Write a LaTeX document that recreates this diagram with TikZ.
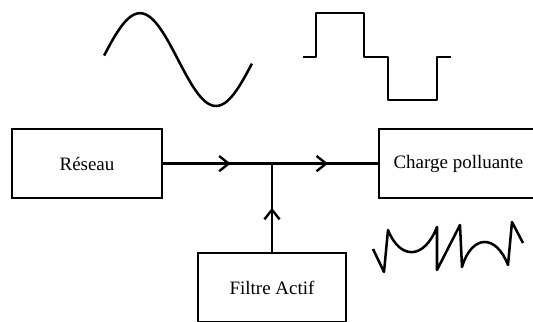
\documentclass[tikz,border=0pt]{standalone}
\usepackage{fontspec}
\setmainfont{Liberation Serif}
\usetikzlibrary{positioning}
\usetikzlibrary{arrows.meta}
\usetikzlibrary{decorations.markings}

\begin{document}
\begin{tikzpicture}[
    box/.style={draw, line width=1.7pt, minimum height=1.72cm, align=center, font=\fontsize{13.5}{16}\selectfont},
    wire/.style={line width=1.7pt},
    wave/.style={line width=1.8pt, line join=round},
    flow/.style={postaction={decorate}, decoration={markings,
        mark=at position #1 with {\arrow{Straight Barb[length=2.4mm,width=3.8mm]}}}}
]
    \useasboundingbox (0,0) rectangle (13.325,8.05);

    % Blocks
    \node[box, minimum width=3.75cm] (reseau) at (2.175,3.96) {Réseau};
    \node[box, minimum width=3.975cm] (charge) at (11.4625,3.96) {Charge polluante};
    \coordinate (j) at (6.8,3.96);
    \node[box, minimum width=3.7cm, below=2.21cm of j] (filtre) {Filtre Actif};

    % Currents
    \draw[wire, flow=0.62] (reseau.east) -- (j);
    \draw[wire, flow=0.53] (j) -- (charge.west);
    \draw[wire, flow=0.5] (filtre.north) -- (j);

    % Sinusoidal source current
    \draw[wave] plot[domain=5:355, samples=80] ({2.55+\x/360*3.8},{6.56+1.16*sin(\x)});

    % Filter current
    \draw[wave] (7.575,6.625) -- (7.9,6.625) -- (7.9,7.725) -- (9.1,7.725) -- (9.1,6.625)
        -- (9.7,6.625) -- (9.7,5.55) -- (10.925,5.55) -- (10.925,6.625) -- (11.275,6.625);

    % Load current
    \draw[wave] (9.325,1.825) -- (9.6,1.25) -- (9.7,2.3)
        .. controls (10.0,1.55) and (10.6,1.55) .. (10.925,2.375)
        -- (10.925,1.3) -- (11.5,2.425) -- (11.55,1.375)
        .. controls (11.8,2.2) and (12.4,2.2) .. (12.7,1.425)
        -- (12.8,2.5) -- (13.075,1.975);
\end{tikzpicture}
\end{document}
